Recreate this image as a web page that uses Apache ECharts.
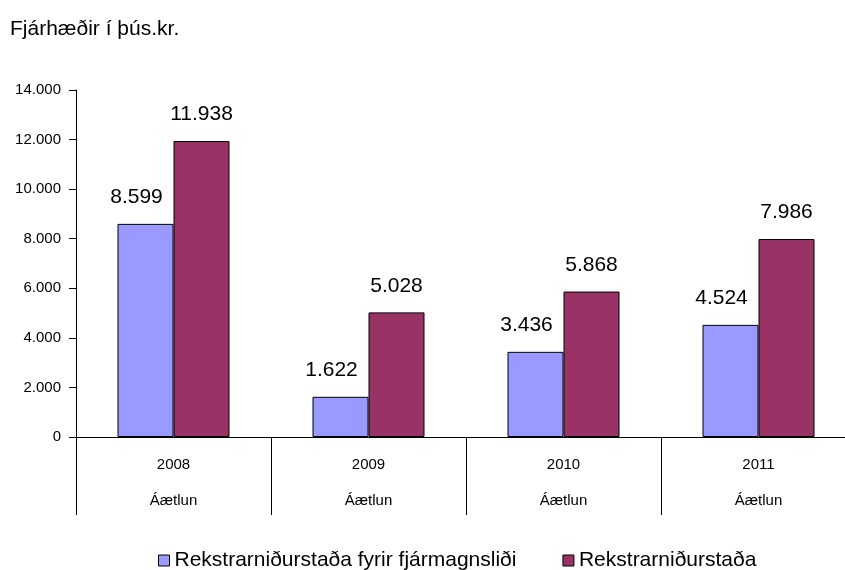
<!DOCTYPE html>
<html>
<head>
<meta charset="utf-8">
<script src="https://cdn.jsdelivr.net/npm/echarts@6/dist/echarts.min.js"></script>
<style>
  html, body { margin: 0; padding: 0; background: #fff; }
  #chart { width: 845px; height: 570px; }
</style>
</head>
<body>
<div id="chart"></div>
<script>
// gögn
var years = ['2008', '2009', '2010', '2011'];
var subLabels = ['Áætlun', 'Áætlun', 'Áætlun', 'Áætlun'];
var seriesNames = ['Rekstrarniðurstaða fyrir fjármagnsliði', 'Rekstrarniðurstaða'];
var fyrirFjarmagnslidi = [8599, 1622, 3436, 4524];
var rekstrarnidurstada = [11938, 5028, 5868, 7986];

var fontName = '"Liberation Sans", Arial, sans-serif';

// 12000 -> 12.000
function fmt(v) {
  return String(v).replace(/\B(?=(\d{3})+(?!\d))/g, '.');
}

var myChart = echarts.init(document.getElementById('chart'));

function barLabel(dx) {
  return {
    show: true,
    position: 'top',
    distance: 16,
    offset: [dx, 0],
    fontSize: 21,
    color: '#000',
    fontFamily: fontName,
    formatter: function (p) { return fmt(p.value); }
  };
}

var option = {
  animation: false,
  backgroundColor: '#fff',
  title: {
    text: 'Fjárhæðir í þús.kr.',
    left: 5,
    top: 14,
    textStyle: { fontSize: 21, fontWeight: 'normal', color: '#000', fontFamily: fontName }
  },
  legend: {
    top: 545,
    left: 153,
    itemWidth: 11,
    itemHeight: 11,
    itemGap: 46,
    icon: 'rect',
    data: seriesNames,
    textStyle: { fontSize: 21, color: '#000', fontFamily: fontName },
    itemStyle: { borderColor: '#000', borderWidth: 1 }
  },
  grid: {
    left: 76,
    top: 90,
    width: 780,
    bottom: 133,
    outerBoundsMode: 'none'
  },
  xAxis: {
    type: 'category',
    data: years,
    axisLine: { lineStyle: { color: '#000', width: 1 } },
    axisTick: { show: true, length: 78, lineStyle: { color: '#000' } },
    axisLabel: {
      margin: 10,
      formatter: function (v, i) {
        return '{a|' + v + '}\n{b|' + subLabels[i] + '}';
      },
      rich: {
        a: { fontSize: 15, lineHeight: 36, color: '#000', fontFamily: fontName },
        b: { fontSize: 15, lineHeight: 36, color: '#000', fontFamily: fontName }
      }
    }
  },
  yAxis: {
    type: 'value',
    min: 0,
    max: 14000,
    interval: 2000,
    splitLine: { show: false },
    axisLine: { show: true, lineStyle: { color: '#000' } },
    axisTick: { show: true, length: 7, lineStyle: { color: '#000' } },
    axisLabel: {
      margin: 15,
      fontSize: 15,
      color: '#000',
      fontFamily: fontName,
      formatter: function (v) { return fmt(v); }
    }
  },
  series: [
    {
      name: seriesNames[0],
      type: 'bar',
      data: fyrirFjarmagnslidi,
      barWidth: 56,
      barGap: '0%',
      itemStyle: { color: '#9999FF', borderColor: '#000', borderWidth: 1 },
      label: barLabel(-9)
    },
    {
      name: seriesNames[1],
      type: 'bar',
      data: rekstrarnidurstada,
      barWidth: 56,
      barGap: '0%',
      itemStyle: { color: '#993366', borderColor: '#000', borderWidth: 1 },
      label: barLabel(0)
    }
  ]
};

myChart.setOption(option);
</script>
</body>
</html>
